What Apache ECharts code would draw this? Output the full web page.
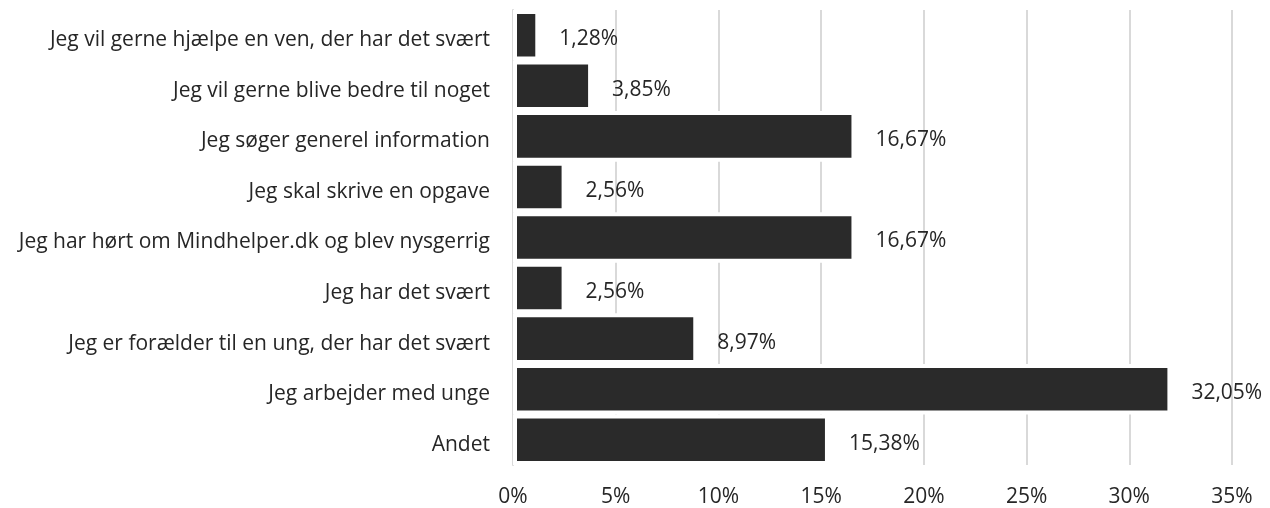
<!DOCTYPE html>
<html>
<head>
<meta charset="utf-8">
<script src="https://cdn.jsdelivr.net/npm/echarts@6/dist/echarts.min.js"></script>
<style>html,body{margin:0;padding:0;background:#fff}#c{width:1270px;height:508px}</style>
</head>
<body>
<div id="c"></div>
<script>
const categories = [
  "Jeg vil gerne hjælpe en ven, der har det svært",
  "Jeg vil gerne blive bedre til noget",
  "Jeg søger generel information",
  "Jeg skal skrive en opgave",
  "Jeg har hørt om Mindhelper.dk og blev nysgerrig",
  "Jeg har det svært",
  "Jeg er forælder til en ung, der har det svært",
  "Jeg arbejder med unge",
  "Andet"
];
const values = [1.28, 3.85, 16.67, 2.56, 16.67, 2.56, 8.97, 32.05, 15.38];
const xTicks = [0, 5, 10, 15, 20, 25, 30, 35];

const chart = echarts.init(document.getElementById('c'), null, {renderer: 'canvas'});
const font = "'Open Sans', 'Noto Sans', sans-serif";
chart.setOption({
  animation: false,
  backgroundColor: '#fff',
  grid: {left: 513, right: 38, top: 10, bottom: 42, containLabel: false},
  xAxis: {
    type: 'value', min: 0, max: 35, interval: 5,
    axisLine: {show: false}, axisTick: {show: false},
    splitLine: {show: true, lineStyle: {color: '#d9d9d9', width: 2}},
    axisLabel: {
      margin: 22, color: '#262626', fontFamily: font, fontSize: 21,
      formatter: v => xTicks.includes(v) ? v + '%' : ''
    }
  },
  yAxis: {
    type: 'category', data: categories, inverse: true,
    axisLine: {show: true, lineStyle: {color: '#d9d9d9', width: 2}},
    axisTick: {show: false},
    axisLabel: {
      margin: 23, color: '#262626', fontFamily: font, fontSize: 21,
      formatter: v => '{a|' + v + '}',
      rich: {a: {color: '#262626', fontFamily: font, fontSize: 21, padding: [10, 0, 0, 0]}}
    }
  },
  series: [{
    type: 'bar', data: values, barCategoryGap: '0%',
    itemStyle: {color: '#2a2a2a', borderColor: '#fff', borderWidth: 4},
    label: {
      show: true, position: 'right', distance: 20, offset: [0, 4],
      color: '#262626', fontFamily: font, fontSize: 21,
      formatter: p => p.value.toFixed(2).replace('.', ',') + '%'
    }
  }]
});
</script>
</body>
</html>
